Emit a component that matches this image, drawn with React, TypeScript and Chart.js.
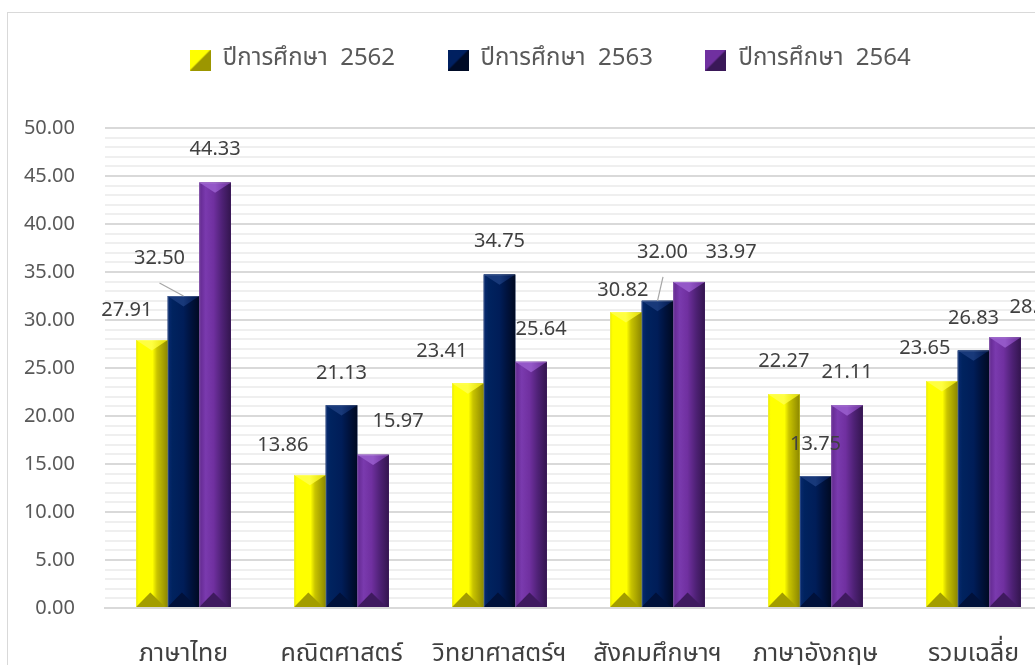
import React, { useEffect, useRef } from 'react';
import { Chart, registerables } from 'chart.js';

Chart.register(...registerables);

const categories = ['ภาษาไทย', 'คณิตศาสตร์', 'วิทยาศาสตร์ฯ', 'สังคมศึกษาฯ', 'ภาษาอังกฤษ', 'รวมเฉลี่ย'];
const seriesNames = ['ปีการศึกษา  2562', 'ปีการศึกษา  2563', 'ปีการศึกษา  2564'];
const values2562 = [27.91, 13.86, 23.41, 30.82, 22.27, 23.65];
const values2563 = [32.5, 21.13, 34.75, 32.0, 13.75, 26.83];
const values2564 = [44.33, 15.97, 25.64, 33.97, 21.11, 28.2];
const yMin = 0;
const yMax = 50;
const yMajorStep = 5;
const yMinorStep = 1;

// label offsets (px) from the bar's top centre, per series
const labelOffsets = [
  [[-25, -30], [-27, -30], [-26, -32], [-3, -22], [0, -33], [-17, -33]],
  [[-24, -38], [0, -32], [0, -33], [5, -49], [0, -32], [0, -32]],
  [[0, -33], [25, -33], [10, -33], [42, -30], [0, -33], [30, -30]],
];
// leader lines: [series, index, startDx, startDy]
const leaderLines = [
  [1, 0, -24, -13],
  [1, 3, 5.5, -24],
];

const THAI_FONT = "'Noto Sans Thai', 'Noto Sans', sans-serif";
const NUM_FONT = "'Noto Sans', 'Open Sans', sans-serif";
const LEGEND_HEIGHT = 132.5;
const LEGEND_SHIFT = 24;

type Pal = { body: [number, string][]; topL: string; topR: string; bottom: string; main: string; dark: string };
const palettes: Pal[] = [
  {
    main: '#ffff00',
    dark: '#9c9600',
    body: [[0, '#e8e800'], [0.08, '#ffff00'], [0.52, '#ffff00'], [0.66, '#c9c400'], [1, '#8c8700']],
    topL: '#ffff40',
    topR: '#e0da00',
    bottom: '#a39d00',
  },
  {
    main: '#002060',
    dark: '#000b26',
    body: [[0, '#082a70'], [0.15, '#00235f'], [0.5, '#001d58'], [0.75, '#00123c'], [1, '#000a22']],
    topL: '#18397a',
    topR: '#00154a',
    bottom: '#00113a',
  },
  {
    main: '#7030a0',
    dark: '#3a1858',
    body: [[0, '#62288f'], [0.2, '#7a3aae'], [0.45, '#7030a0'], [0.72, '#4e2175'], [1, '#33154e']],
    topL: '#9458c8',
    topR: '#6a2e98',
    bottom: '#3f1a5f',
  },
];

function drawBevelBar(ctx: CanvasRenderingContext2D, L: number, T: number, R: number, B: number, p: Pal) {
  const w = R - L;
  const h = B - T;
  if (h <= 0 || w <= 0) return;
  const d = Math.min(w * 0.33, h / 2);
  const cx = L + w / 2;
  ctx.save();
  const g = ctx.createLinearGradient(L, 0, R, 0);
  p.body.forEach(([o, c]) => g.addColorStop(o, c));
  ctx.fillStyle = g;
  ctx.fillRect(L, T, w, h);
  const gt = ctx.createLinearGradient(L, 0, R, 0);
  gt.addColorStop(0, p.topL);
  gt.addColorStop(0.5, p.topL);
  gt.addColorStop(1, p.topR);
  ctx.fillStyle = gt;
  ctx.beginPath();
  ctx.moveTo(L, T);
  ctx.lineTo(R, T);
  ctx.lineTo(cx, T + d);
  ctx.closePath();
  ctx.fill();
  ctx.fillStyle = p.bottom;
  ctx.beginPath();
  ctx.moveTo(L, B);
  ctx.lineTo(L + w * 0.45, B - d * 1.4);
  ctx.lineTo(R - w * 0.08, B);
  ctx.closePath();
  ctx.fill();
  ctx.strokeStyle = 'rgba(255,255,255,0.18)';
  ctx.lineWidth = 1;
  ctx.beginPath();
  ctx.moveTo(L + 0.5, B);
  ctx.lineTo(L + 0.5, T + 0.5);
  ctx.lineTo(R - 0.5, T + 0.5);
  ctx.stroke();
  ctx.restore();
}

function makeIcon(p: Pal): HTMLCanvasElement {
  const c = document.createElement('canvas');
  c.width = 21;
  c.height = 21;
  const x = c.getContext('2d')!;
  x.fillStyle = p.main;
  x.fillRect(0, 0, 21, 21);
  x.fillStyle = p.dark;
  x.beginPath();
  x.moveTo(21, 0);
  x.lineTo(21, 21);
  x.lineTo(0, 21);
  x.closePath();
  x.fill();
  return c;
}

const framePlugin = {
  id: 'frame',
  beforeLayout(chart: any) {
    const lg = chart.legend;
    if (lg && !lg.__fixedHeight) {
      const orig = lg.fit.bind(lg);
      lg.fit = function () {
        orig();
        this.height = LEGEND_HEIGHT;
      };
      lg.__fixedHeight = true;
    }
  },
  afterLayout(chart: any) {
    const lg = chart.legend;
    if (lg) {
      lg.left += LEGEND_SHIFT;
      lg.right += LEGEND_SHIFT;
    }
  },
  beforeDraw(chart: any) {
    const ctx = chart.ctx as CanvasRenderingContext2D;
    ctx.save();
    ctx.fillStyle = '#ffffff';
    ctx.fillRect(0, 0, chart.width, chart.height);
    ctx.strokeStyle = '#d9d9d9';
    ctx.lineWidth = 1;
    ctx.strokeRect(7.5, 12.5, chart.width + 50, chart.height + 50);
    ctx.restore();
  },
};

const barDecorPlugin = {
  id: 'barDecor',
  afterDatasetsDraw(chart: any) {
    const ctx = chart.ctx as CanvasRenderingContext2D;
    chart.data.datasets.forEach((_ds: any, di: number) => {
      const meta = chart.getDatasetMeta(di);
      meta.data.forEach((el: any) => {
        const { x, y, base, width } = el.getProps(['x', 'y', 'base', 'width'], true);
        drawBevelBar(ctx, x - width / 2, y, x + width / 2, base, palettes[di]);
      });
    });
    ctx.save();
    ctx.strokeStyle = '#a6a6a6';
    ctx.lineWidth = 1.2;
    leaderLines.forEach(([di, i, dx, dy]) => {
      const el = chart.getDatasetMeta(di).data[i];
      const { x, y } = el.getProps(['x', 'y'], true);
      ctx.beginPath();
      ctx.moveTo(x + dx, y + dy);
      ctx.lineTo(x, y);
      ctx.stroke();
    });
    ctx.restore();
    ctx.save();
    ctx.font = `20px ${NUM_FONT}`;
    ctx.fillStyle = '#404040';
    ctx.textAlign = 'center';
    ctx.textBaseline = 'middle';
    chart.data.datasets.forEach((ds: any, di: number) => {
      const meta = chart.getDatasetMeta(di);
      meta.data.forEach((el: any, i: number) => {
        const { x, y } = el.getProps(['x', 'y'], true);
        const [dx, dy] = labelOffsets[di][i];
        ctx.fillText(Number(ds.data[i]).toFixed(2), x + dx, y + dy);
      });
    });
    ctx.restore();
  },
};

export default function App() {
  const ref = useRef<HTMLCanvasElement | null>(null);
  useEffect(() => {
    if (!ref.current) return;
    const icons = palettes.map(makeIcon);
    const datasets = [values2562, values2563, values2564].map((vals, i) => ({
      label: seriesNames[i],
      data: vals,
      backgroundColor: palettes[i].main,
      borderWidth: 0,
      barPercentage: 1,
      categoryPercentage: 0.6,
    }));
    const chart = new Chart(ref.current, {
      type: 'bar',
      data: { labels: categories, datasets },
      plugins: [framePlugin, barDecorPlugin],
      options: {
        animation: false,
        responsive: false,
        devicePixelRatio: 1,
        layout: { padding: { left: 0, right: 47.5, top: -4.5, bottom: 0 } },
        plugins: {
          tooltip: { enabled: false },
          legend: {
            position: 'top',
            labels: {
              usePointStyle: true,
              pointStyleWidth: 21,
              boxHeight: 21,
              padding: 52.5,
              color: '#595959',
              font: { family: THAI_FONT, size: 24 },
              generateLabels: (c: any) =>
                Chart.defaults.plugins.legend.labels.generateLabels(c).map((l: any, i: number) => ({
                  ...l,
                  pointStyle: icons[i],
                })),
            },
          },
        },
        scales: {
          x: {
            grid: { display: false, drawTicks: false },
            border: { display: true, color: '#d9d9d9', width: 2 },
            ticks: { color: '#404040', padding: 33, font: { family: THAI_FONT, size: 25 }, maxRotation: 0, autoSkip: false },
            afterFit: (s: any) => {
              s.height = 92;
            },
          },
          y: {
            min: yMin,
            max: yMax,
            border: { display: false },
            grid: {
              drawTicks: false,
              color: (c: any) => (c.tick && c.tick.value % yMajorStep === 0 ? '#d9d9d9' : '#efefef'),
              lineWidth: 2,
            },
            ticks: {
              stepSize: yMinorStep,
              maxTicksLimit: 100,
              autoSkip: false,
              padding: 29.5,
              color: '#595959',
              font: { family: NUM_FONT, size: 20 },
              callback: (v: any) => (Number(v) % yMajorStep === 0 ? Number(v).toFixed(2) : ''),
            },
            afterFit: (s: any) => {
              s.width = 104.5;
            },
          },
        },
      },
    });
    return () => chart.destroy();
  }, []);
  return (
    <div style={{ position: 'fixed', left: 0, top: 0, width: 1035, height: 665, overflow: 'hidden', background: '#fff' }}>
      <canvas ref={ref} width={1100} height={700} style={{ position: 'absolute', left: 0, top: 0, width: 1100, height: 700 }} />
    </div>
  );
}
